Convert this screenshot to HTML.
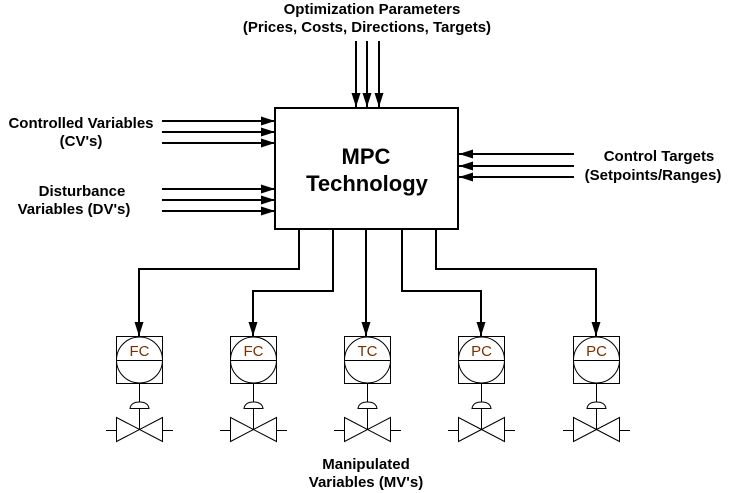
<!DOCTYPE html>
<html><head><meta charset="utf-8"><style>
html,body{margin:0;padding:0;background:#fff;}
svg{display:block;}
text{font-family:"Liberation Sans",Arial,sans-serif;font-weight:bold;font-size:15px;fill:#000;}
.t{font-weight:normal;font-size:15px;fill:#7a3000;}
</style></head><body>
<svg width="734" height="493" viewBox="0 0 734 493" xmlns="http://www.w3.org/2000/svg">
<defs>
<marker id="b" markerWidth="14" markerHeight="9" refX="14" refY="4.5" orient="auto" markerUnits="userSpaceOnUse">
<path d="M0,0 L14,4.5 L0,9 Z" fill="#000"/></marker>
</defs>
<text x="372" y="14" text-anchor="middle">Optimization Parameters</text>
<text x="367" y="32" text-anchor="middle">(Prices, Costs, Directions, Targets)</text>
<text x="81" y="128" text-anchor="middle">Controlled Variables</text>
<text x="81" y="146" text-anchor="middle">(CV's)</text>
<text x="82" y="196" text-anchor="middle">Disturbance</text>
<text x="74" y="214" text-anchor="middle">Variables (DV's)</text>
<text x="659" y="161" text-anchor="middle">Control Targets</text>
<text x="653" y="180" text-anchor="middle">(Setpoints/Ranges)</text>
<text x="366" y="469" text-anchor="middle">Manipulated</text>
<text x="366" y="487" text-anchor="middle">Variables (MV's)</text>

<rect x="275" y="108" width="183" height="121" fill="#fff" stroke="#000" stroke-width="2"/>
<text x="366" y="164" text-anchor="middle" style="font-size:22px">MPC</text>
<text x="367" y="191" text-anchor="middle" style="font-size:22px">Technology</text>

<g stroke="#000" stroke-width="2" fill="none">
<line x1="356" y1="41" x2="356" y2="107" marker-end="url(#b)"/>
<line x1="367" y1="41" x2="367" y2="107" marker-end="url(#b)"/>
<line x1="379" y1="41" x2="379" y2="107" marker-end="url(#b)"/>
<line x1="162" y1="121" x2="275" y2="121" marker-end="url(#b)"/>
<line x1="162" y1="132" x2="275" y2="132" marker-end="url(#b)"/>
<line x1="162" y1="143" x2="275" y2="143" marker-end="url(#b)"/>
<line x1="162" y1="189" x2="275" y2="189" marker-end="url(#b)"/>
<line x1="162" y1="200" x2="275" y2="200" marker-end="url(#b)"/>
<line x1="162" y1="211" x2="275" y2="211" marker-end="url(#b)"/>
<line x1="574" y1="154" x2="459" y2="154" marker-end="url(#b)"/>
<line x1="574" y1="166" x2="459" y2="166" marker-end="url(#b)"/>
<line x1="574" y1="177" x2="459" y2="177" marker-end="url(#b)"/>
<polyline points="299,229 299,269 139,269 139,336" marker-end="url(#b)"/>
<polyline points="333,229 333,291 253,291 253,336" marker-end="url(#b)"/>
<polyline points="366,229 366,336" marker-end="url(#b)"/>
<polyline points="402,229 402,291 481,291 481,336" marker-end="url(#b)"/>
<polyline points="436,229 436,269 596,269 596,336" marker-end="url(#b)"/>
</g>

<g id="inst" stroke="#000" stroke-width="1" fill="none">
<rect x="116.5" y="336.5" width="46" height="47"/>
<circle cx="139.5" cy="360" r="23"/>
<line x1="116.5" y1="360.5" x2="162.5" y2="360.5"/>
<line x1="139.5" y1="384" x2="139.5" y2="430"/>
<path d="M130,408.5 Q131,402 139.5,402 Q148,402 149,408.5 Z" fill="#fff"/>
<path d="M116.5,417.5 L162.5,441.5 L162.5,417.5 L116.5,441.5 Z"/>
<line x1="106" y1="430.5" x2="116.5" y2="430.5"/>
<line x1="162.5" y1="430.5" x2="173" y2="430.5"/>
</g>
<use href="#inst" x="114"/>
<use href="#inst" x="228"/>
<use href="#inst" x="342"/>
<use href="#inst" x="457"/>
<text class="t" x="139.5" y="356" text-anchor="middle">FC</text>
<text class="t" x="253.5" y="356" text-anchor="middle">FC</text>
<text class="t" x="367.5" y="356" text-anchor="middle">TC</text>
<text class="t" x="481.5" y="356" text-anchor="middle">PC</text>
<text class="t" x="596.5" y="356" text-anchor="middle">PC</text>
</svg>
</body></html>
